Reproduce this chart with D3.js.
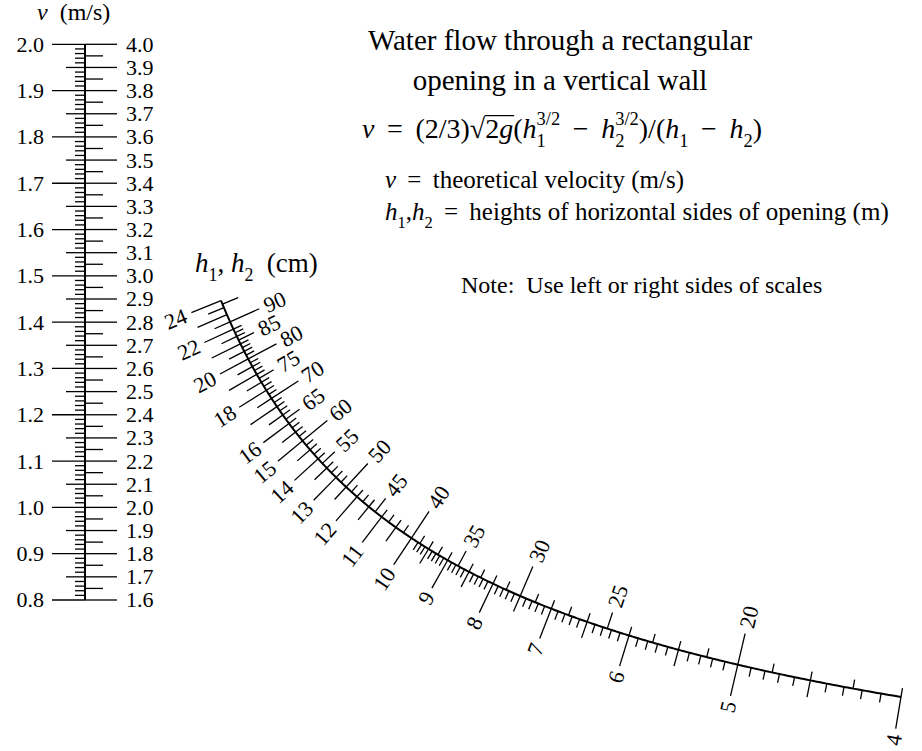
<!DOCTYPE html>
<html><head><meta charset="utf-8">
<script src="https://cdn.jsdelivr.net/npm/d3@7"></script>
<style>
body{margin:0;background:#fff}
text{font-family:"Liberation Serif","DejaVu Serif",serif;fill:#000}
</style>
</head><body>
<svg id="c" width="922" height="751"></svg>
<script>
// ---------------- data ----------------
const vLeftDomain = [0.8, 2.0];          // v (m/s), left side of the v scale
const vLeftLabels = ["0.8","0.9","1.0","1.1","1.2","1.3","1.4","1.5","1.6","1.7","1.8","1.9","2.0"];
const vRightLabels = ["1.6","1.7","1.8","1.9","2.0","2.1","2.2","2.3","2.4","2.5","2.6","2.7","2.8",
                      "2.9","3.0","3.1","3.2","3.3","3.4","3.5","3.6","3.7","3.8","3.9","4.0"];
const hLeftDomain = [4, 24];             // h (cm), left side of the curved scale
const hLeftLabels = [4,5,6,7,8,9,10,11,12,13,14,15,16,18,20,22,24];
const hRightDomain = [16, 96];           // h (cm), right side (x4)
const hRightLabels = [20,25,30,35,40,45,50,55,60,65,70,75,80,85,90];
const gAcc = 9.81;

// ---------------- scales ----------------
const svg = d3.select("#c");
const axisX = 85;
const vScale = d3.scaleLinear().domain(vLeftDomain).range([600, 44.3]);
const vRightScale = d3.scaleLinear().domain([vLeftDomain[0]*2, vLeftDomain[1]*2]).range(vScale.range());
// curve: x depends on 1/h, y on sqrt(h) through the v scale (projective nomogram)
const K = 15 / Math.sqrt(2*gAcc);
const invScale = d3.scaleLinear().domain([0, 1/hLeftDomain[0]]).range([axisX, 901]);
function P(h){ return [invScale(1/h), vScale(Math.sqrt(h)/K)]; }
function normal(h){
  const e = 1e-4;
  const a = P(h+e), b = P(h-e);
  let tx = a[0]-b[0], ty = a[1]-b[1];
  const L = Math.hypot(tx,ty); tx/=L; ty/=L;
  return (-ty) > 0 ? [-ty, tx] : [ty, -tx];   // normal pointing up-right
}

const LONG = 32, MED = 17, SHORT = 9;
const gAxis = svg.append("g");

// ---------------- v scale ----------------
gAxis.append("line").attr("x1",axisX).attr("x2",axisX)
  .attr("y1",vScale(vLeftDomain[0])).attr("y2",vScale(vLeftDomain[1]))
  .attr("stroke","#000").attr("stroke-width",2);

const vLeftTicks = d3.range(80, 201).map(i => ({v:i/100, len: i%10===0?33:(i%5===0?19:10)}));
gAxis.selectAll(".vlt").data(vLeftTicks).join("line")
  .attr("x1",axisX).attr("x2",d=>axisX-d.len)
  .attr("y1",d=>vScale(d.v)).attr("y2",d=>vScale(d.v))
  .attr("stroke","#000").attr("stroke-width",1.3);
const vRightTicks = d3.range(32, 81).map(i => ({v:i*0.05, len: i%2===0?32:18}));
gAxis.selectAll(".vrt").data(vRightTicks).join("line")
  .attr("x1",axisX).attr("x2",d=>axisX+d.len)
  .attr("y1",d=>vRightScale(d.v)).attr("y2",d=>vRightScale(d.v))
  .attr("stroke","#000").attr("stroke-width",1.3);

gAxis.selectAll(".vll").data(vLeftLabels).join("text")
  .attr("x", axisX-41).attr("y", d=>vScale(+d)).attr("dy","0.34em")
  .attr("text-anchor","end").attr("font-size",22).text(d=>d);
gAxis.selectAll(".vrl").data(vRightLabels).join("text")
  .attr("x", axisX+41).attr("y", d=>vRightScale(+d)).attr("dy","0.34em")
  .attr("text-anchor","start").attr("font-size",22).text(d=>d);

// ---------------- curved h scale ----------------
const gH = svg.append("g");
const line = d3.line();
const samples = d3.range(hLeftDomain[0], hLeftDomain[1]+1e-9, 0.02).map(P);
gH.append("path").attr("d", line(samples)).attr("fill","none")
  .attr("stroke","#000").attr("stroke-width",2);

function spacing(h, step){ const a=P(h-step/2), b=P(h+step/2); return Math.hypot(a[0]-b[0],a[1]-b[1]); }

// left side: h in cm (step 0.1)
const leftTicks = [];
d3.range(40, 241).forEach(i => {
  const h = i/10;
  let len;
  if (i%10===0) len = LONG; else if (i%5===0) len = MED;
  else { if (spacing(h,0.1) < 4.0) return; len = SHORT; }
  leftTicks.push({h, len});
});
gH.selectAll(".lt").data(leftTicks).join("line")
  .each(function(d){
    const p = P(d.h), n = normal(d.h);
    d3.select(this).attr("x1",p[0]).attr("y1",p[1])
      .attr("x2",p[0]-n[0]*d.len).attr("y2",p[1]-n[1]*d.len);
  })
  .attr("stroke","#000").attr("stroke-width",1.3);

// right side: value R = 4h (step 1)
const rightTicks = [];
d3.range(hRightDomain[0], hRightDomain[1]+1).forEach(R => {
  const h = R/4;
  let len;
  if (R%10===0) len = LONG; else if (R%5===0) len = MED;
  else { if (spacing(h,0.25) < 4.0) return; len = SHORT; }
  rightTicks.push({h, len});
});
gH.selectAll(".rt").data(rightTicks).join("line")
  .each(function(d){
    const p = P(d.h), n = normal(d.h);
    d3.select(this).attr("x1",p[0]).attr("y1",p[1])
      .attr("x2",p[0]+n[0]*d.len).attr("y2",p[1]+n[1]*d.len);
  })
  .attr("stroke","#000").attr("stroke-width",1.3);

function rot(n){ return Math.atan2(n[1], n[0])*180/Math.PI; }
gH.selectAll(".ll").data(hLeftLabels).join("text")
  .attr("font-size",22).attr("text-anchor","end").attr("dy","0.34em")
  .attr("transform", d => { const p=P(d), n=normal(d), o=LONG+6;
      return `translate(${p[0]-n[0]*o},${p[1]-n[1]*o}) rotate(${rot(n)})`; })
  .text(d=>d);
gH.selectAll(".rl").data(hRightLabels).join("text")
  .attr("font-size",22).attr("text-anchor","start").attr("dy","0.34em")
  .attr("transform", d => { const h=d/4, p=P(h), n=normal(h), o=(d%10===0?LONG:MED)+6;
      return `translate(${p[0]+n[0]*o},${p[1]+n[1]*o}) rotate(${rot(n)})`; })
  .text(d=>d);

// ---------------- math text helper ----------------
function mathText(parent, x, y, parts, size, anchor){
  const g = parent.append("g");
  let cx = 0;
  function put(str, it, fs, dy){
    const t = g.append("text").attr("x",cx).attr("y",dy||0).attr("font-size",fs||size).text(str);
    if (it) t.attr("font-style","italic");
    return t.node().getComputedTextLength();
  }
  function run(ps){
    ps.forEach(p => {
      if (typeof p === "string") cx += put(p.replace(/ /g,"\u00A0"));
      else if (p.i) cx += put(p.i, true);
      else if (p.sqrt){
        cx += put("\u221A");
        const x0 = cx;
        run(p.sqrt);
        g.append("line").attr("x1",x0-0.5).attr("x2",cx+1).attr("y1",-0.80*size).attr("y2",-0.80*size)
          .attr("stroke","#000").attr("stroke-width",size*0.045);
      } else {
        let w = 0;
        const fs = size*0.66;
        if (p.sup) w = Math.max(w, put(p.sup, false, fs, -0.46*size));
        if (p.sub) w = Math.max(w, put(p.sub, false, fs, 0.32*size));
        cx += w;
      }
    });
  }
  run(parts);
  let ox = x;
  if (anchor==="middle") ox = x - cx/2; else if (anchor==="end") ox = x - cx;
  g.attr("transform",`translate(${ox},${y})`);
  return cx;
}

const gT = svg.append("g");
const sp = "\u2009";
mathText(gT, 37, 20, [{i:"v"}, "  (m/s)"], 24, "start");
mathText(gT, 195, 272, [{i:"h"},{sub:"1"},", ",{i:"h"},{sub:"2"},"  (cm)"], 27, "start");
mathText(gT, 560, 50, ["Water flow through a rectangular"], 29, "middle");
mathText(gT, 560, 90, ["opening in a vertical wall"], 29, "middle");
mathText(gT, 562, 138, [{i:"v"},sp+" = "+sp+"(2/3)",{sqrt:["2",{i:"g"}]},"(",{i:"h"},{sub:"1",sup:"3/2"},
   sp+" \u2212 "+sp,{i:"h"},{sub:"2",sup:"3/2"},")/(",{i:"h"},{sub:"1"},sp+" \u2212 "+sp,{i:"h"},{sub:"2"},")"], 28, "middle");
mathText(gT, 385, 188, [{i:"v"},sp+" = "+sp+"theoretical velocity (m/s)"], 25, "start");
mathText(gT, 385, 220, [{i:"h"},{sub:"1"},",",{i:"h"},{sub:"2"},sp+" = "+sp+"heights of horizontal sides of opening (m)"], 25, "start");
mathText(gT, 461, 293, ["Note:  Use left or right sides of scales"], 24, "start");
</script>
</body></html>
